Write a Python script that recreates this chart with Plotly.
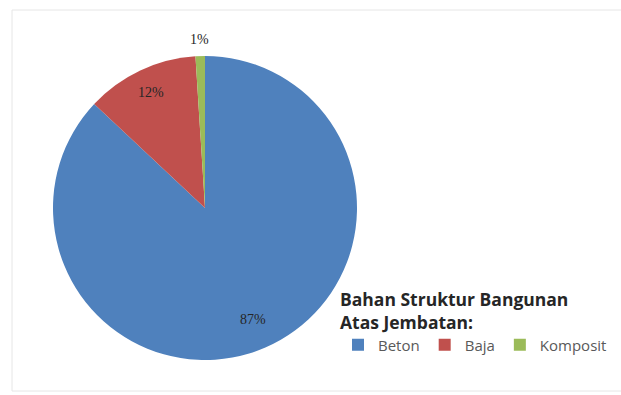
import math
import plotly.graph_objects as go

labels = ["Beton", "Baja", "Komposit"]
values = [87, 12, 1]
colors = ["#4F81BD", "#C0504D", "#9BBB59"]
label_radius = [0.8, 0.84, 1.11]  # fraction of radius where each % label sits

W, H = 621, 395
cx, cy, r = 205, 208, 152

fig = go.Figure(go.Pie(
    labels=labels,
    values=values,
    marker=dict(colors=colors, line=dict(width=0)),
    sort=False,
    direction="clockwise",
    rotation=0,
    textinfo="none",
    domain=dict(x=[(cx - r) / W, (cx + r) / W], y=[(H - cy - r) / H, (H - cy + r) / H]),
    showlegend=True,
    hoverinfo="label+percent",
))

# percentage labels, placed at each slice's mid angle
total = sum(values)
annotations = []
cum = 0
for v, f in zip(values, label_radius):
    theta = math.radians((cum + v / 2) / total * 360)
    cum += v
    px = cx + f * r * math.sin(theta)
    py = cy - f * r * math.cos(theta)
    annotations.append(dict(
        x=px / W, y=(H - py) / H, xref="paper", yref="paper",
        text=f"{round(v / total * 100)}%", showarrow=False,
        font=dict(family="Liberation Serif", size=14, color="#262626"),
        xanchor="center", yanchor="middle",
    ))

fig.update_layout(
    width=W, height=H,
    margin=dict(l=0, r=0, t=0, b=0),
    paper_bgcolor="white",
    plot_bgcolor="white",
    font=dict(family="Open Sans", color="#404040"),
    annotations=annotations,
    legend=dict(
        orientation="h",
        x=338 / W, y=(H - 283) / H,
        xanchor="left", yanchor="top",
        title=dict(text="<b>Bahan Struktur Bangunan<br>Atas Jembatan:</b>", side="top",
                   font=dict(size=17.5, color="#262626")),
        font=dict(size=15, color="#595959"),
        itemwidth=30,
        tracegroupgap=0,
        bgcolor="rgba(0,0,0,0)",
    ),
    shapes=[dict(type="rect", xref="paper", yref="paper",
                 x0=12 / W, x1=1.01, y0=(H - 391) / H, y1=(H - 10) / H,
                 line=dict(color="#e6e6e6", width=1), layer="below")],
)

fig.write_html("out.html")
